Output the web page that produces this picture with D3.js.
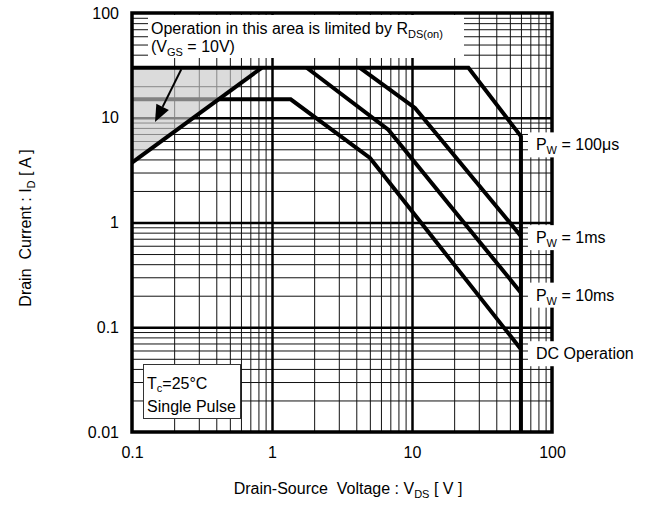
<!DOCTYPE html>
<html>
<head>
<meta charset="utf-8">
<script src="https://cdn.jsdelivr.net/npm/d3@7/dist/d3.min.js"></script>
<style>
  body { margin: 0; background: #fff; }
  svg text { font-family: Arial, "Liberation Sans", sans-serif; fill: #000; }
  .grid line { stroke: #111; stroke-width: 1; }
  .grid path { display: none; }
  .major line { stroke: #000; stroke-width: 2.5; }
  .axis path, .axis line { display: none; }
  .axis text { font-size: 16px; }
  .curve { fill: none; stroke: #000; stroke-width: 4; stroke-linejoin: miter; }
</style>
</head>
<body>
<div id="chart"></div>
<script>
// axis ticks
const xTicks = [0.1, 1, 10, 100];
const yTicks = [0.01, 0.1, 1, 10, 100];

// safe operating area curves, [V_DS, I_D]
const rdsLimit = [[0.1, 3.73], [0.844, 30]];
const pw100us = [[0.1, 30], [25.3, 30], [60, 6.64], [60, 0.01]];
const pw1ms = [[4.25, 30], [10.5, 12.4], [60, 0.741]];
const pw10ms = [[1.77, 30], [6.77, 7.69], [60, 0.214]];
const dcOp = [[0.1, 15], [1.36, 15], [5.01, 4.13], [60, 0.0617]];

const curveLabels = [
  { pre: 'P', sub: 'W', post: ' = 100μs', at: pw100us[2], dy: 8 },
  { pre: 'P', sub: 'W', post: ' = 1ms', at: pw1ms[2], dy: 1 },
  { pre: 'P', sub: 'W', post: ' = 10ms', at: pw10ms[2], dy: 2 },
  { pre: 'DC Operation', sub: '', post: '', at: dcOp[3], dy: 4 }
];

const W = 653, H = 505;
const margins = { top: 13, left: 132, width: 420, height: 419 };

const svg = d3.select('#chart').append('svg')
  .attr('width', W).attr('height', H);

const x = d3.scaleLog().domain([0.1, 100])
  .range([margins.left, margins.left + margins.width]);
const y = d3.scaleLog().domain([0.01, 100])
  .range([margins.top + margins.height, margins.top]);

// minor and decade grid values
const decadesX = d3.range(-1, 2);
const decadesY = d3.range(-2, 2);
const minorX = decadesX.flatMap(d => d3.range(2, 10).map(k => k * Math.pow(10, d)));
const minorY = decadesY.flatMap(d => d3.range(2, 10).map(k => k * Math.pow(10, d)));
const bottom = margins.top + margins.height;

// minor grid
svg.append('g').attr('class', 'grid')
  .attr('transform', `translate(0, ${bottom})`)
  .call(d3.axisBottom(x).tickValues(minorX).tickSize(-margins.height).tickFormat(''));
svg.append('g').attr('class', 'grid')
  .attr('transform', `translate(${margins.left}, 0)`)
  .call(d3.axisLeft(y).tickValues(minorY).tickSize(-margins.width).tickFormat(''));

// decade grid
svg.append('g').attr('class', 'grid major')
  .attr('transform', `translate(0, ${bottom})`)
  .call(d3.axisBottom(x).tickValues([1, 10]).tickSize(-margins.height).tickFormat(''));
svg.append('g').attr('class', 'grid major')
  .attr('transform', `translate(${margins.left}, 0)`)
  .call(d3.axisLeft(y).tickValues([0.1, 1, 10]).tickSize(-margins.width).tickFormat(''));

const line = d3.line().x(d => x(d[0])).y(d => y(d[1]));

// DC line first, so the shaded area dims its left part
svg.append('path').attr('class', 'curve').attr('d', line(dcOp));

// shaded RDS(on) limited area
svg.append('path')
  .attr('d', line([[0.1, 30], rdsLimit[1], rdsLimit[0]]) + 'Z')
  .attr('fill', 'rgba(200,200,200,0.65)');

[rdsLimit, pw100us, pw1ms, pw10ms].forEach(c => {
  svg.append('path').attr('class', 'curve').attr('d', line(c));
});

// frame
svg.append('rect')
  .attr('x', margins.left).attr('y', margins.top)
  .attr('width', margins.width).attr('height', margins.height)
  .attr('fill', 'none').attr('stroke', '#000').attr('stroke-width', 3.5);

// axes labels
const fmt = d => (d >= 1 ? d3.format('d')(d) : String(d));
svg.append('g').attr('class', 'axis')
  .attr('transform', `translate(0, ${bottom})`)
  .call(d3.axisBottom(x).tickValues(xTicks).tickSize(0).tickPadding(15).tickFormat(fmt));
svg.append('g').attr('class', 'axis')
  .attr('transform', `translate(${margins.left}, 0)`)
  .call(d3.axisLeft(y).tickValues(yTicks).tickSize(0).tickPadding(13).tickFormat(fmt));

// top annotation box
const note = svg.append('g');
note.append('rect')
  .attr('x', 148).attr('y', margins.top + 2)
  .attr('width', 316).attr('height', 43)
  .attr('fill', '#fff');
const t1 = note.append('text').attr('x', 151).attr('y', 34).attr('font-size', 16);
t1.append('tspan').text('Operation in this area is limited by R');
t1.append('tspan').attr('font-size', 11).attr('dy', 4).text('DS(on)');
const t2 = note.append('text').attr('x', 151).attr('y', 52).attr('font-size', 16);
t2.append('tspan').text('(V');
t2.append('tspan').attr('font-size', 11).attr('dy', 4).text('GS');
t2.append('tspan').attr('dy', -4).text(' = 10V)');

// arrow pointing into the shaded area
const a0 = [x(0.225), y(29)], a1 = [x(0.146), y(9.1)];
const ang = Math.atan2(a1[1] - a0[1], a1[0] - a0[0]);
const headLen = 17, headW = 7;
const base = [a1[0] - headLen * Math.cos(ang), a1[1] - headLen * Math.sin(ang)];
svg.append('line')
  .attr('x1', a0[0]).attr('y1', a0[1]).attr('x2', base[0]).attr('y2', base[1])
  .attr('stroke', '#000').attr('stroke-width', 2);
svg.append('path')
  .attr('d', `M${a1[0]},${a1[1]}L${base[0] + headW * Math.sin(ang)},${base[1] - headW * Math.cos(ang)}L${base[0] - headW * Math.sin(ang)},${base[1] + headW * Math.cos(ang)}Z`)
  .attr('fill', '#000');

// curve labels at the right
curveLabels.forEach(l => {
  const cy = y(l.at[1]) + l.dy;
  const g = svg.append('g');
  const bg = g.append('rect').attr('fill', '#fff');
  const t = g.append('text').attr('x', x(l.at[0]) + 15).attr('y', cy + 6).attr('font-size', 16);
  t.append('tspan').text(l.pre);
  if (l.sub) {
    t.append('tspan').attr('font-size', 11).attr('dy', 4).text(l.sub);
    t.append('tspan').attr('dy', -4).text(l.post);
  }
  const bb = t.node().getBBox();
  bg.attr('x', x(l.at[0]) + 7).attr('y', cy - 12)
    .attr('width', bb.x + bb.width - x(l.at[0]) - 3).attr('height', 25);
});

// test condition box
const cond = svg.append('g');
cond.append('rect')
  .attr('x', 143.5).attr('y', 364.5).attr('width', 97).attr('height', 54)
  .attr('fill', '#fff').attr('stroke', '#333').attr('stroke-width', 1);
const c1 = cond.append('text').attr('x', 147).attr('y', 389).attr('font-size', 16);
c1.append('tspan').text('T');
c1.append('tspan').attr('font-size', 11).attr('dy', 3).text('c');
c1.append('tspan').attr('dy', -3).text('=25°C');
cond.append('text').attr('x', 147).attr('y', 412).attr('font-size', 16).text('Single Pulse');

// axis titles
const xt = svg.append('text').attr('x', 348).attr('y', 494)
  .attr('text-anchor', 'middle').attr('font-size', 16);
xt.append('tspan').text('Drain-Source\u00a0\u00a0Voltage : V');
xt.append('tspan').attr('font-size', 11).attr('dy', 4).text('DS');
xt.append('tspan').attr('dy', -4).text(' [ V ]');

const yt = svg.append('text')
  .attr('transform', 'translate(31, 228) rotate(-90)')
  .attr('text-anchor', 'middle').attr('font-size', 16);
yt.append('tspan').text('Drain\u00a0\u00a0Current : I');
yt.append('tspan').attr('font-size', 11).attr('dy', 4).text('D');
yt.append('tspan').attr('dy', -4).text(' [ A ]');
</script>
</body>
</html>
